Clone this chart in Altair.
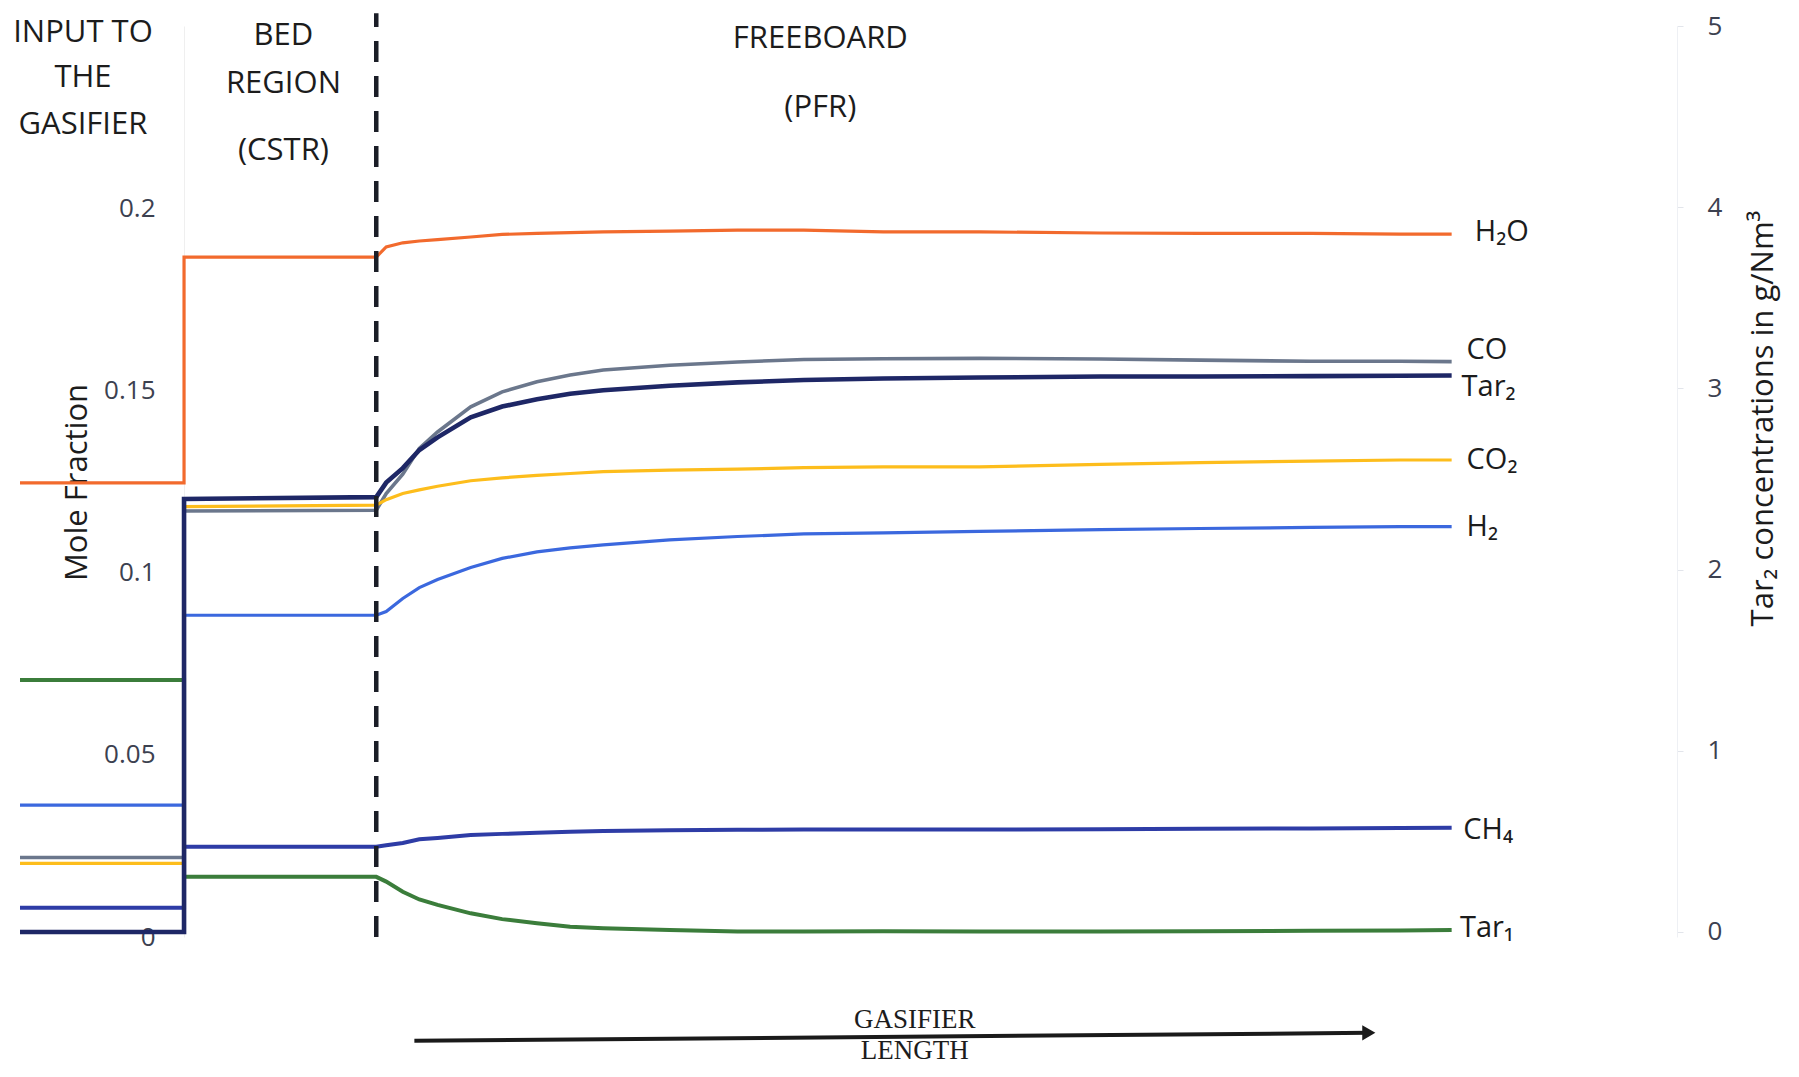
import altair as alt
import pandas as pd

# ---------------- data ----------------
# axial position along the gasifier, arbitrary units (0-100 across the plot)
x_start = 0.0          # start of the "input" block
x_step = 9.9           # input -> bed (CSTR)
x_divider = 21.5       # bed -> freeboard (dashed line)
fb_x = [21.5, 22.1, 23.1, 24.1, 25.2, 27.2, 29.1, 31.2, 33.2, 35.2,
        39.2, 43.3, 47.3, 52.1, 57.9, 65.2, 71.2, 77.9, 83.3, 86.4]

# mole fractions: input value, bed value, freeboard profile
h2o_in, h2o_bed = 0.1246, 0.1866
h2o_fb = [0.1866, 0.1894, 0.1905, 0.1910, 0.1914, 0.1921, 0.1928, 0.1931, 0.1933, 0.1935,
          0.1937, 0.1940, 0.1940, 0.1935, 0.1935, 0.1932, 0.1931, 0.1931, 0.1929, 0.1929]
co_in, co_bed = 0.0218, 0.1169
co_fb = [0.1171, 0.1217, 0.1270, 0.1341, 0.1386, 0.1455, 0.1496, 0.1524, 0.1542, 0.1556,
         0.1569, 0.1578, 0.1585, 0.1587, 0.1588, 0.1586, 0.1583, 0.1580, 0.1580, 0.1579]
co2_in, co2_bed = 0.0202, 0.1181
co2_fb = [0.1185, 0.1200, 0.1217, 0.1227, 0.1237, 0.1252, 0.1260, 0.1267, 0.1272, 0.1277,
          0.1281, 0.1284, 0.1288, 0.1290, 0.1290, 0.1297, 0.1302, 0.1306, 0.1309, 0.1309]
h2_in, h2_bed = 0.0362, 0.0883
h2_fb = [0.0883, 0.0893, 0.0929, 0.0959, 0.0981, 0.1014, 0.1039, 0.1057, 0.1068, 0.1076,
         0.1090, 0.1099, 0.1106, 0.1109, 0.1113, 0.1118, 0.1121, 0.1124, 0.1126, 0.1126]
ch4_in, ch4_bed = 0.0080, 0.0248
ch4_fb = [0.0248, 0.0252, 0.0258, 0.0268, 0.0272, 0.0280, 0.0283, 0.0286, 0.0289, 0.0291,
          0.0293, 0.0294, 0.0295, 0.0295, 0.0295, 0.0296, 0.0297, 0.0298, 0.0299, 0.0300]
tar1_in, tar1_bed = 0.0705, 0.0165
tar1_fb = [0.0165, 0.0152, 0.0124, 0.0103, 0.0088, 0.0065, 0.0049, 0.0038, 0.0028, 0.0024,
           0.0019, 0.0015, 0.0015, 0.0016, 0.0015, 0.0015, 0.0016, 0.0017, 0.0018, 0.0019]
# Tar2 in g/Nm3 (right axis)
tar2_in, tar2_bed = 0.0, 2.39
tar2_fb = [2.40, 2.48, 2.56, 2.66, 2.73, 2.84, 2.90, 2.94, 2.97, 2.99,
           3.015, 3.033, 3.046, 3.055, 3.060, 3.066, 3.066, 3.068, 3.070, 3.071]

left_ticks = [0, 0.05, 0.1, 0.15, 0.2]
right_ticks = [0, 1, 2, 3, 4, 5]

# end-of-line labels
label_text = ["H\u2082O", "CO", "Tar\u2082", "CO\u2082", "H\u2082", "CH\u2084", "Tar\u2081"]
label_x = [87.8, 87.3, 87.0, 87.3, 87.3, 87.1, 86.9]
label_v = [0.1934, 0.1610, 0.1509, 0.1309, 0.1125, 0.0294, 0.0025]

# region headings
region_text = ["INPUT TO", "THE", "GASIFIER", "BED", "REGION", "(CSTR)", "FREEBOARD", "(PFR)"]
region_x = [3.8, 3.8, 3.8, 15.9, 15.9, 15.9, 48.3, 48.3]
region_v = [0.2456, 0.2332, 0.2203, 0.2447, 0.2316, 0.2132, 0.2439, 0.2250]

# dashed divider (bed / freeboard)
divider_v = [0.0, 0.2535]

# gasifier-length arrow and its caption
arrow_x = [23.8, 81.4]
arrow_v = [-0.0285, -0.0263]
caption_text = ["GASIFIER", "LENGTH"]
caption_x = [54.0, 54.0]
caption_v = [-0.0250, -0.0335]

# ---------------- styles ----------------
series_style = {
    "Tar1": ("#3b7d3b", 4.0),
    "CH4": ("#2e3ca6", 4.0),
    "H2": ("#3b68de", 3.2),
    "CO": ("#6b778c", 3.6),
    "CO2": ("#fdbd1c", 3.2),
    "H2O": ("#f26a2d", 3.2),
}
TAR2_COLOR = "#1e2766"
FONT = "Open Sans"
TXT = "#1c1c1c"
LBL = "#3c4150"


def profile(v_in, v_bed, fb):
    xs = [x_start, x_step, x_step] + fb_x
    vs = [v_in, v_in, v_bed] + list(fb)
    return pd.DataFrame({"x": xs, "v": vs, "idx": range(len(xs))})


series_data = {
    "Tar1": profile(tar1_in, tar1_bed, tar1_fb),
    "CH4": profile(ch4_in, ch4_bed, ch4_fb),
    "H2": profile(h2_in, h2_bed, h2_fb),
    "CO": profile(co_in, co_bed, co_fb),
    "CO2": profile(co2_in, co2_bed, co2_fb),
    "H2O": profile(h2o_in, h2o_bed, h2o_fb),
}
tar2_df = profile(tar2_in, tar2_bed, tar2_fb)

# ---------------- scales & axes ----------------
xscale = alt.Scale(domain=[0, 100], nice=False, zero=False)
yscale_left = alt.Scale(domain=[0, 0.25], nice=False, zero=False)
yscale_right = alt.Scale(domain=[-0.0276, 5], nice=False, zero=False)

left_axis = alt.Axis(
    orient="left", offset=-164, values=left_ticks, format="~g",
    labelFont=FONT, labelFontSize=26, labelColor=LBL, labelPadding=29,
    ticks=False, domain=True, domainColor="#efefef", domainWidth=1, grid=False,
    title="Mole Fraction", titleFont=FONT, titleFontSize=31, titleFontWeight="normal",
    titleColor=TXT, titleAngle=270, titleX=-107, titleY=456,
    titleBaseline="middle", titleAlign="center",
)
right_axis = alt.Axis(
    orient="right", values=right_ticks, format="d",
    labelFont=FONT, labelFontSize=26, labelColor=LBL, labelPadding=24,
    ticks=True, tickSize=6, tickColor="#e2e5eb", domain=True, domainColor="#eef0f4",
    grid=False,
    title="Tar\u2082 concentrations in g/Nm\u00b3", titleFont=FONT, titleFontSize=31,
    titleFontWeight="normal", titleColor=TXT, titleAngle=270, titleX=86, titleY=392,
    titleBaseline="middle", titleAlign="center",
)

X = alt.X("x:Q", scale=xscale, axis=None)
YL = alt.Y("v:Q", scale=yscale_left, axis=left_axis)

left_layers = []
for name, df in series_data.items():
    color, width = series_style[name]
    left_layers.append(
        alt.Chart(df).mark_line(color=color, strokeWidth=width, strokeJoin="miter")
        .encode(x=X, y=YL, order="idx:Q")
    )

labels_df = pd.DataFrame({"x": label_x, "v": label_v, "t": label_text})
left_layers.append(
    alt.Chart(labels_df).mark_text(align="left", baseline="middle", font=FONT,
                                   fontSize=29, color=TXT)
    .encode(x=X, y=YL, text="t:N")
)

region_df = pd.DataFrame({"x": region_x, "v": region_v, "t": region_text})
left_layers.append(
    alt.Chart(region_df).mark_text(align="center", baseline="alphabetic", font=FONT,
                                   fontSize=31, color=TXT)
    .encode(x=X, y=YL, text="t:N")
)

caption_df = pd.DataFrame({"x": caption_x, "v": caption_v, "t": caption_text})
left_layers.append(
    alt.Chart(caption_df).mark_text(align="center", baseline="alphabetic",
                                    font="Liberation Serif", fontSize=27, color=TXT)
    .encode(x=X, y=YL, text="t:N")
)

arrow_df = pd.DataFrame({"x": [arrow_x[0]], "x2": [arrow_x[1]],
                         "v": [arrow_v[0]], "v2": [arrow_v[1]]})
left_layers.append(
    alt.Chart(arrow_df).mark_rule(color="#1a1a1a", strokeWidth=4)
    .encode(x=X, x2="x2:Q", y=YL, y2="v2:Q")
)
head_df = pd.DataFrame({"x": [arrow_x[1]], "v": [arrow_v[1]]})
left_layers.append(
    alt.Chart(head_df).mark_point(shape="triangle-right", filled=True, size=230,
                                  color="#1a1a1a", opacity=1)
    .encode(x=X, y=YL)
)

left_group = alt.layer(*left_layers)

tar2_line = alt.Chart(tar2_df).mark_line(color=TAR2_COLOR, strokeWidth=4.6,
                                         strokeJoin="miter").encode(
    x=X, y=alt.Y("v:Q", scale=yscale_right, axis=right_axis), order="idx:Q"
)

divider_df = pd.DataFrame({"x": [x_divider], "v": [divider_v[0]], "v2": [divider_v[1]]})
divider = alt.Chart(divider_df).mark_rule(
    color="#1b1e27", strokeWidth=4.5, strokeDash=[21, 14]
).encode(
    x=X, y=alt.Y("v:Q", scale=yscale_left, axis=None), y2="v2:Q"
)

chart = alt.layer(left_group, tar2_line, divider).resolve_scale(
    y="independent"
).properties(
    width=1657, height=911,
    autosize=alt.AutoSizeParams(type="none"),
    padding={"left": 12, "top": 18, "right": 110, "bottom": 129},
    background="white",
).configure_view(stroke=None)

chart.save("out.html", embed_options={"renderer": "svg", "actions": False})
